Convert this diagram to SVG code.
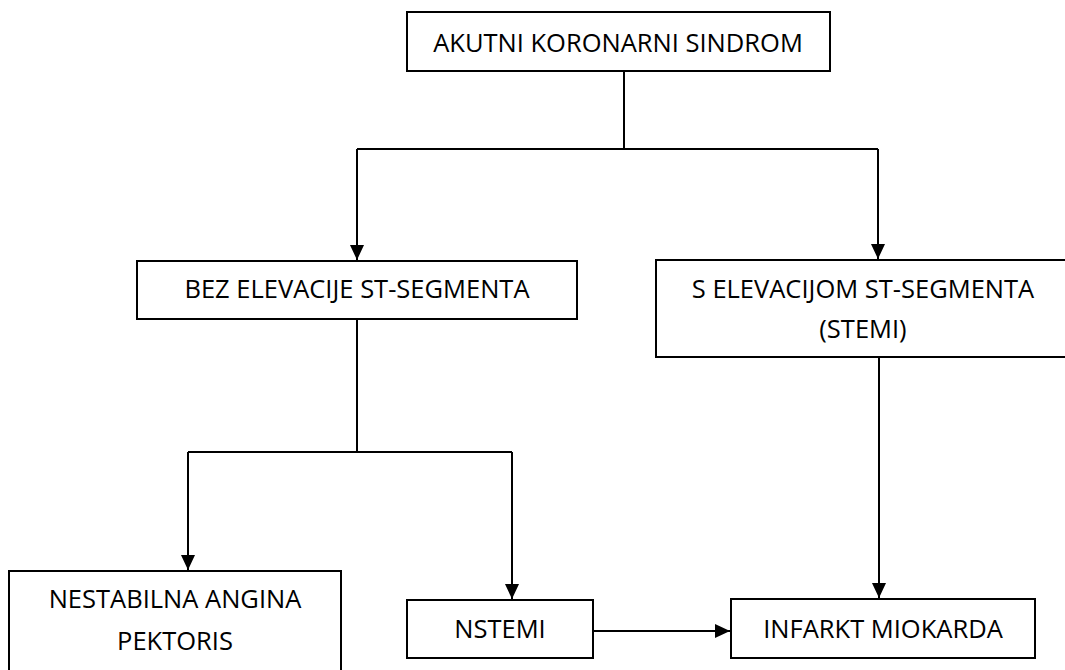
<svg xmlns="http://www.w3.org/2000/svg" width="1065" height="670" viewBox="0 0 1065 670">
<defs>
<marker id="arr" markerUnits="userSpaceOnUse" markerWidth="16" markerHeight="14" refX="15" refY="7" orient="auto">
<path d="M0,0 L15,7 L0,14 z" fill="#000"/>
</marker>
<style>
.box{fill:#fff;stroke:#000;stroke-width:2}
.lbl{font-family:"Open Sans","Liberation Sans",sans-serif;font-size:25.5px;fill:#000;text-anchor:middle}
.con{fill:none;stroke:#000;stroke-width:2}
</style>
</defs>
<rect width="1065" height="670" fill="#fff"/>
<g id="connectors">
<path class="con" d="M624,71 V149"/>
<path class="con" d="M357,149 H878"/>
<path class="con" d="M357,149 V260" marker-end="url(#arr)"/>
<path class="con" d="M878,149 V259" marker-end="url(#arr)"/>
<path class="con" d="M357,319 V452"/>
<path class="con" d="M188,452 H512"/>
<path class="con" d="M188,452 V570" marker-end="url(#arr)"/>
<path class="con" d="M512,452 V599" marker-end="url(#arr)"/>
<path class="con" d="M879,357 V598" marker-end="url(#arr)"/>
<path class="con" d="M593,631 H730" marker-end="url(#arr)"/>
</g>
<g id="akutni">
<rect class="box" x="407" y="12" width="423" height="59"/>
<text class="lbl" x="618" y="52">AKUTNI KORONARNI SINDROM</text>
</g>
<g id="bez">
<rect class="box" x="137" y="261" width="440" height="58"/>
<text class="lbl" x="357" y="298">BEZ ELEVACIJE ST-SEGMENTA</text>
</g>
<g id="stemi">
<rect class="box" x="656" y="260" width="414" height="97"/>
<text class="lbl" x="863" y="298">S ELEVACIJOM ST-SEGMENTA</text>
<text class="lbl" x="863" y="338">(STEMI)</text>
</g>
<g id="nestabilna">
<rect class="box" x="9" y="571" width="332" height="110"/>
<text class="lbl" x="175" y="608">NESTABILNA ANGINA</text>
<text class="lbl" x="175" y="650">PEKTORIS</text>
</g>
<g id="nstemi">
<rect class="box" x="407" y="600" width="186" height="58"/>
<text class="lbl" x="500" y="638">NSTEMI</text>
</g>
<g id="infarkt">
<rect class="box" x="731" y="599" width="304" height="59"/>
<text class="lbl" x="883" y="638">INFARKT MIOKARDA</text>
</g>
</svg>
